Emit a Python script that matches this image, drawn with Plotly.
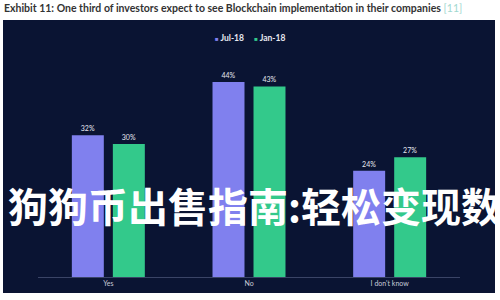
import plotly.graph_objects as go

categories = ["Yes", "No", "I don't know"]
jul18 = [32, 44, 24]
jan18 = [30, 43, 27]
series_names = ["Jul-18", "Jan-18"]

title_text = "Exhibit 11: One third of investors expect to see Blockchain implementation in their companies"
ref_text = "[11]"
overlay_text = "狗狗币出售指南:轻松变现数"

NAVY = "#0a1433"
PURPLE = "#8080ee"
GREEN = "#33c98b"

W, H = 500, 300
L, R, T, B = 38, 40, 51, 23
pw, ph = W - L - R, H - T - B

def px_x(p):
    return (p - L) / pw

def px_y(p):
    return (H - B - p) / ph

fig = go.Figure()
for name, vals, col in [(series_names[0], jul18, PURPLE), (series_names[1], jan18, GREEN)]:
    fig.add_trace(go.Bar(
        x=categories, y=vals, name=name, marker=dict(color=col, line=dict(width=0)),
        text=[f"{v}%" for v in vals], textposition="outside",
        textfont=dict(color="#e6e8f0", size=7, family="Lato"),
        cliponaxis=False, showlegend=False,
    ))

legend_html = "&nbsp;&nbsp;&nbsp;&nbsp;&nbsp;".join(
    f"<span style='color:{c};font-size:6px'>■</span> {n}"
    for n, c in zip(series_names, [PURPLE, GREEN])
)

fig.update_layout(
    width=W, height=H,
    margin=dict(l=L, r=R, t=T, b=B, pad=0),
    paper_bgcolor="white",
    plot_bgcolor=NAVY,
    barmode="group", bargap=0.417, bargroupgap=0.22,
    showlegend=False,
    xaxis=dict(showgrid=False, showline=True, linecolor="#3a4466", linewidth=1,
               ticks="", tickfont=dict(color="#c8ccd8", size=7, family="Lato"), fixedrange=True),
    yaxis=dict(range=[0, 51], visible=False, showgrid=False, zeroline=False, fixedrange=True),
    shapes=[dict(type="rect", xref="paper", yref="paper",
                 x0=px_x(3), x1=px_x(495), y0=px_y(293), y1=px_y(20),
                 fillcolor=NAVY, line=dict(width=0), layer="below")],
    annotations=[
        dict(xref="paper", yref="paper", x=px_x(2), y=px_y(8), xanchor="left", yanchor="middle",
             showarrow=False,
             text=f"<b>{title_text}</b> <span style='color:#9fd8cf'>{ref_text}</span>",
             font=dict(color="#333333", size=10.5, family="Lato")),
        dict(xref="paper", yref="paper", x=px_x(250), y=px_y(38), xanchor="center", yanchor="middle",
             showarrow=False, text=f"<b>{legend_html}</b>",
             font=dict(color="#e6e8f0", size=8.5, family="Lato")),
        dict(xref="paper", yref="paper", x=px_x(6), y=px_y(205), xanchor="left", yanchor="middle",
             showarrow=False, text=f"<b>{overlay_text}</b>",
             font=dict(color="white", size=40, family="Noto Sans CJK SC")),
    ],
)

fig.write_html("out.html")
